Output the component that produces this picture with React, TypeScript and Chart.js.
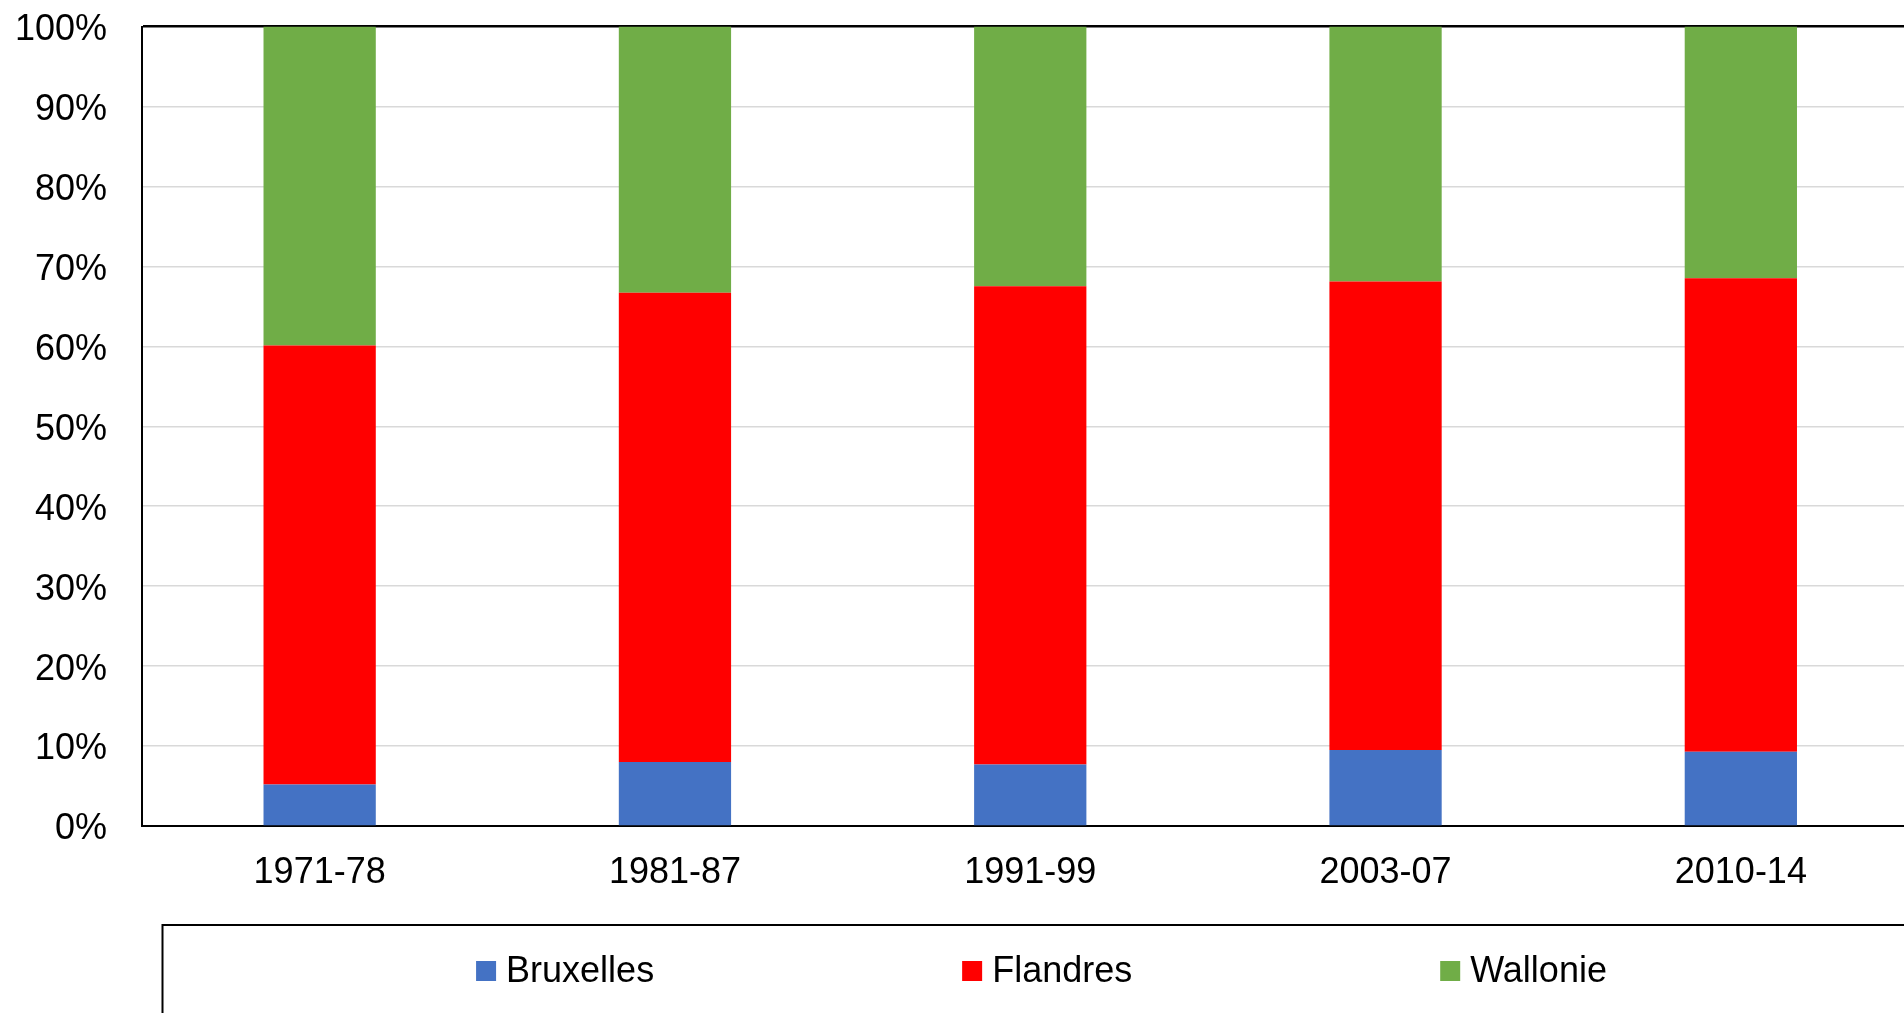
import React, { useEffect, useRef } from "react";
import { Chart, registerables } from "chart.js";

Chart.register(...registerables);

const categories = ["1971-78", "1981-87", "1991-99", "2003-07", "2010-14"];
const bruxelles = [5.2, 8.0, 7.7, 9.5, 9.3];
const flandres = [54.9, 58.7, 59.8, 58.6, 59.2];
const wallonie = [39.9, 33.3, 32.5, 31.9, 31.5];
const seriesNames = ["Bruxelles", "Flandres", "Wallonie"];
const seriesColors = ["#4472C4", "#FF0000", "#70AD47"];

const FONT = "'Liberation Sans', Arial, Helvetica, sans-serif";

const boxLegendPlugin = {
  id: "boxLegend",
  afterDraw(chart: any) {
    const { ctx, chartArea } = chart;
    const boxLeft = chartArea.left + 20.5;
    const boxTop = chartArea.bottom + 99;
    const boxRight = chartArea.right + 2;
    ctx.save();
    ctx.strokeStyle = "#000";
    ctx.lineWidth = 2;
    ctx.strokeRect(boxLeft, boxTop, boxRight - boxLeft, 200);
    ctx.font = `36px ${FONT}`;
    ctx.textBaseline = "middle";
    ctx.textAlign = "left";
    const marker = 20;
    const gapText = 10;
    const gapItems = 308;
    const items = chart.data.datasets.map((d: any) => ({
      label: d.label,
      color: d.backgroundColor,
      w: marker + gapText + ctx.measureText(d.label).width,
    }));
    const total =
      items.reduce((s: number, it: any) => s + it.w, 0) + gapItems * (items.length - 1);
    const cx = (boxLeft + boxRight) / 2;
    let x = cx - total / 2;
    const cy = boxTop + 46;
    for (const it of items) {
      ctx.fillStyle = it.color;
      ctx.fillRect(x, cy - marker / 2, marker, marker);
      ctx.fillStyle = "#000";
      ctx.fillText(it.label, x + marker + gapText, cy + 1);
      x += it.w + gapItems;
    }
    ctx.restore();
  },
};

export default function App() {
  const ref = useRef<HTMLCanvasElement | null>(null);

  useEffect(() => {
    if (!ref.current) return;
    Chart.defaults.font.family = FONT;
    Chart.defaults.color = "#000";
    const values = [bruxelles, flandres, wallonie];
    const chart = new Chart(ref.current, {
      type: "bar",
      data: {
        labels: categories,
        datasets: seriesNames.map((name, i) => ({
          label: name,
          data: values[i],
          backgroundColor: seriesColors[i],
          borderWidth: 0,
          categoryPercentage: 1,
          barPercentage: 0.316,
        })),
      },
      options: {
        responsive: false,
        animation: false,
        devicePixelRatio: 1,
        layout: { padding: { top: 26.5, right: 21.5, bottom: 0, left: 0 } },
        plugins: {
          legend: { display: false },
          tooltip: { enabled: false },
        },
        scales: {
          x: {
            stacked: true,
            grid: { display: false, drawTicks: false, tickLength: 0 },
            border: { display: true, color: "#000", width: 2 },
            ticks: { font: { size: 36 }, padding: 25, color: "#000", maxRotation: 0 },
            afterFit(scale: any) {
              scale.height = 187;
              scale.paddingLeft = 0;
              scale.paddingRight = 0;
            },
          },
          y: {
            stacked: true,
            min: 0,
            max: 100,
            grid: {
              color: (c: any) => (c.tick && c.tick.value === 100 ? "#000" : "#d9d9d9"),
              lineWidth: (c: any) => (c.tick && c.tick.value === 100 ? 2.5 : 1.5),
              drawTicks: false,
              tickLength: 0,
            },
            border: { display: true, color: "#000", width: 2 },
            ticks: {
              stepSize: 10,
              font: { size: 36 },
              padding: 35,
              labelOffset: 3.5,
              color: "#000",
              callback: (v: any) => `${v}%`,
            },
            afterFit(scale: any) {
              scale.width = 142;
              scale.paddingTop = 0;
              scale.paddingBottom = 0;
            },
          },
        },
      },
      plugins: [boxLegendPlugin],
    } as any);
    return () => chart.destroy();
  }, []);

  return (
    <div
      style={{
        position: "fixed",
        left: 0,
        top: 0,
        width: 1904,
        height: 1013,
        overflow: "hidden",
        background: "#fff",
      }}
    >
      <canvas ref={ref} width={1940} height={1013} style={{ display: "block" }} />
    </div>
  );
}
